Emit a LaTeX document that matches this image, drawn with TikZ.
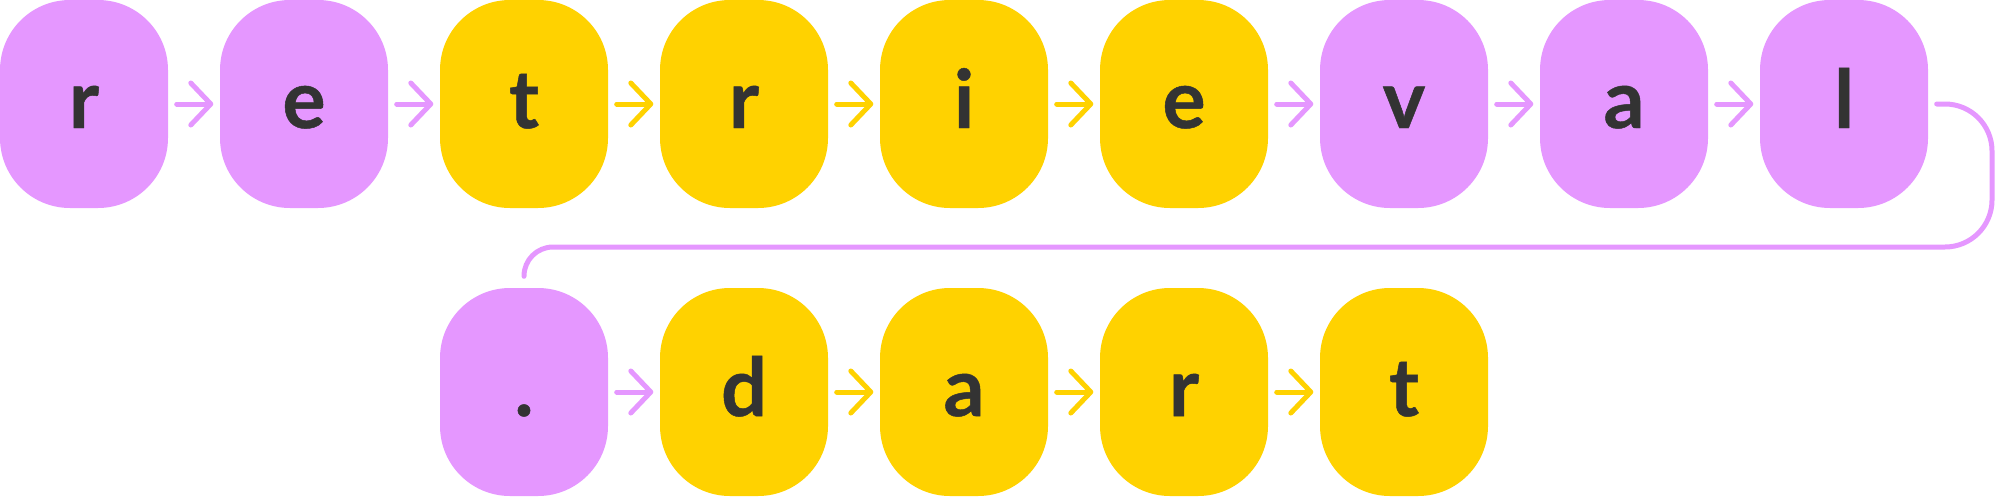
\documentclass[tikz,border=0pt]{standalone}
\usepackage{fontspec}
\setmainfont{Lato}[BoldFeatures={FakeBold=0.6}]
\usetikzlibrary{arrows.meta,positioning}
\definecolor{Lila}{HTML}{E597FF}
\definecolor{Gelb}{HTML}{FFD200}
\definecolor{Tinte}{HTML}{333333}

\tikzset{
  letterbox/.style={fill=#1, rounded corners=0.7cm, minimum width=1.68cm,
    minimum height=2.08cm, inner sep=0pt, text height=0.48cm, text depth=0cm,
    text=Tinte, font=\fontsize{23}{24}\selectfont\bfseries},
  link/.style={#1, line width=0.05cm, line cap=round,
    -{Straight Barb[length=2mm,width=4.2mm,round]},
    shorten <=0.08cm, shorten >=0.06cm}
}

\begin{document}
\begin{tikzpicture}
\useasboundingbox (0,0) rectangle (19.95,-4.96);
% first row
\foreach \ch/\col [count=\i from 0] in {r/Lila,e/Lila,t/Gelb,r/Gelb,i/Gelb,e/Gelb,v/Lila,a/Lila,l/Lila}
  \node[letterbox=\col] (top\i) at (\i*2.2+0.84,-1.04) {\ch};
% second row
\foreach \ch/\col [count=\i from 0] in {./Lila,d/Gelb,a/Gelb,r/Gelb,t/Gelb}
  \node[letterbox=\col] (bot\i) at (\i*2.2+5.24,-3.92) {\ch};
%
\foreach \a/\b/\col in {0/1/Lila,1/2/Lila,2/3/Gelb,3/4/Gelb,4/5/Gelb,5/6/Lila,6/7/Lila,7/8/Lila}
  \draw[link=\col] (top\a) -- (top\b);
\foreach \a/\b/\col in {0/1/Lila,1/2/Gelb,2/3/Gelb,3/4/Gelb}
  \draw[link=\col] (bot\a) -- (bot\b);
%
% wrap from the end of row one to the start of row two
\coordinate (tail) at ([yshift=0.11cm]bot0.north);
\draw[Lila, line width=0.05cm, line cap=round, rounded corners=0.47cm]
  ([xshift=0.08cm]top8.east) -- (19.92,-1.04) -- (19.92,-2.47)
  [rounded corners=0.29cm] -- (tail |- 0,-2.47) -- (tail);
\end{tikzpicture}
\end{document}
